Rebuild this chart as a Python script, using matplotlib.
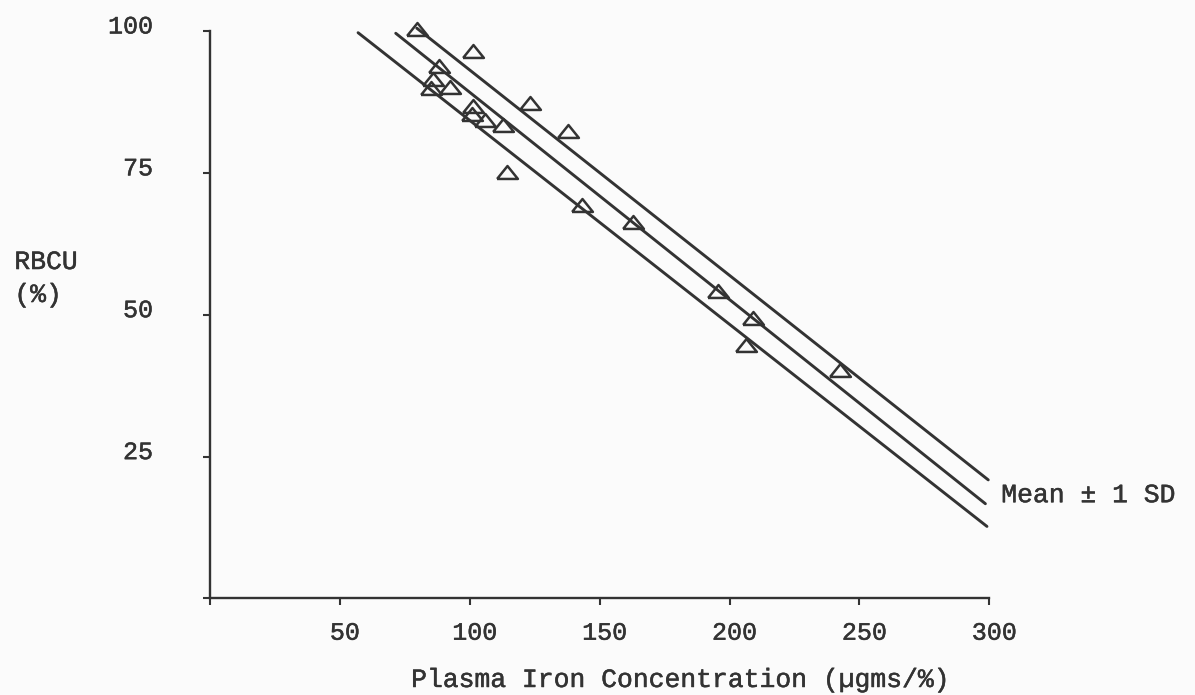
import matplotlib
matplotlib.use('Agg')
from matplotlib import pyplot as plt
from matplotlib import transforms
from matplotlib import patheffects


# data
iron = [79.6, 101.1, 88.0, 86.0, 85.0, 92.4, 101.3, 101.0, 105.8, 112.9,
        123.2, 137.9, 114.2, 143.1, 162.9, 195.6, 209.1, 206.3, 242.5]
rbcu = [100.3, 96.4, 93.8, 91.6, 90.0, 90.2, 86.7, 85.3, 84.3, 83.4,
        87.4, 82.3, 75.2, 69.3, 66.4, 54.1, 49.4, 44.7, 40.3]

# regression line (mean) and +/- 1 SD lines, end points
upper_x = [79.6, 299.6]
upper_y = [100.5, 20.9]
mean_x = [71.5, 298.5]
mean_y = [99.6, 16.7]
lower_x = [57.0, 299.1]
lower_y = [99.7, 12.7]

xticks = [0, 50, 100, 150, 200, 250, 300]
xticklabels = ['', '50', '100', '150', '200', '250', '300']
yticks = [0, 25, 50, 75, 100]
yticklabels = ['', '25', '50', '75', '100']

INK = '#333333'
FONT = 'Liberation Mono'


def main():
    plt.rcParams['font.family'] = FONT
    fig = plt.figure(figsize=(11.95, 6.95), dpi=100)
    fig.patch.set_facecolor('#fbfbfb')
    ax = fig.add_axes([0.17573, 0.13885, 0.65214, 0.81655])
    ax.set_facecolor('#fbfbfb')

    for xs, ys in [(upper_x, upper_y), (mean_x, mean_y), (lower_x, lower_y)]:
        ax.plot(xs, ys, color=INK, lw=2.1, solid_capstyle='round', clip_on=False)

    tri = [(-1, -0.62), (1, -0.62), (0, 0.62), (-1, -0.62)]
    ax.plot(iron, rbcu, linestyle='none', marker=tri, markersize=15,
            markerfacecolor='none', markeredgecolor=INK, markeredgewidth=1.8,
            clip_on=False)

    ax.set_xlim(0, 300)
    ax.set_ylim(0, 100)
    for side in ['top', 'right']:
        ax.spines[side].set_visible(False)
    for side in ['left', 'bottom']:
        ax.spines[side].set_color(INK)
        ax.spines[side].set_linewidth(1.7)

    ax.set_xticks(xticks)
    ax.set_xticklabels(xticklabels, fontsize=18, color=INK)
    ax.set_yticks(yticks)
    ax.set_yticklabels(yticklabels, fontsize=18, color=INK)
    ax.tick_params(axis='x', direction='out', length=5, width=1.5, color=INK, pad=11)
    ax.tick_params(axis='y', direction='out', length=5, width=1.5, color=INK, pad=36)

    # typewritten labels sit a little off their ticks
    ink = [patheffects.withStroke(linewidth=0.35, foreground=INK)]
    shift_x = transforms.ScaledTranslation(5 / 100, 0, fig.dpi_scale_trans)
    for lab in ax.get_xticklabels():
        lab.set_transform(lab.get_transform() + shift_x)
        lab.set_path_effects(ink)
    shift_y = transforms.ScaledTranslation(0, 7 / 100, fig.dpi_scale_trans)
    for lab in ax.get_yticklabels():
        lab.set_transform(lab.get_transform() + shift_y)
        lab.set_path_effects(ink)

    xl = ax.set_xlabel('Plasma Iron Concentration (µgms/%)', fontsize=19, color=INK,
                       va='center')
    xl.set_path_effects(ink)
    ax.xaxis.set_label_coords(0.6044, -0.1436)

    fig.text(0.012, 0.623, 'RBCU', fontsize=19, color=INK, ha='left', va='center',
             path_effects=ink)
    fig.text(0.012, 0.5755, '(%)', fontsize=19, color=INK, ha='left', va='center',
             path_effects=ink)

    ax.text(304.6, 18.2, 'Mean ± 1 SD', fontsize=19, color=INK, ha='left', va='center',
            clip_on=False, path_effects=ink)

    fig.savefig('out.png', dpi=100, facecolor=fig.get_facecolor())


if __name__ == '__main__':
    main()
